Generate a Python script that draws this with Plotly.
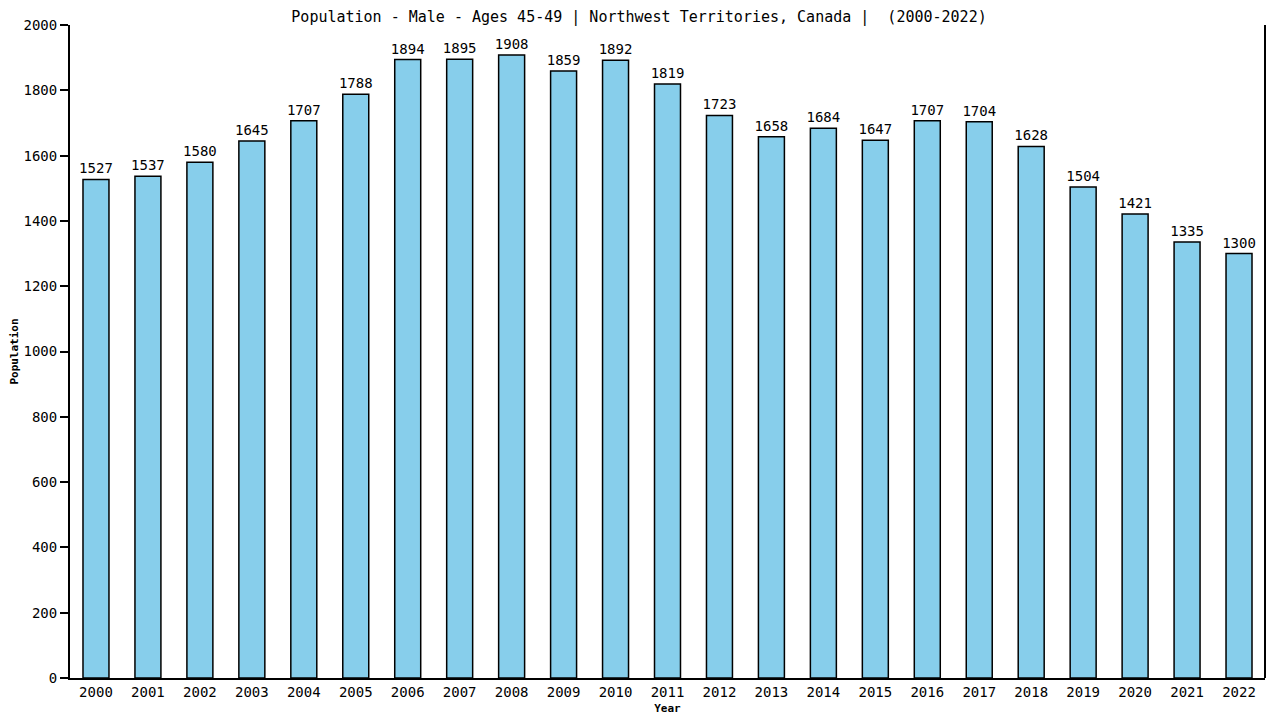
import plotly.graph_objects as go

years = [str(y) for y in range(2000, 2023)]
population = [1527, 1537, 1580, 1645, 1707, 1788, 1894, 1895, 1908, 1859, 1892, 1819,
              1723, 1658, 1684, 1647, 1707, 1704, 1628, 1504, 1421, 1335, 1300]
y_ticks = list(range(0, 2001, 200))

font = "DejaVu Sans Mono"

fig = go.Figure()
fig.add_trace(go.Bar(
    x=years, y=population,
    width=0.5,
    marker=dict(color="#87CEEB", line=dict(color="black", width=1.5)),
    text=[str(v) for v in population],
    textposition="outside",
    constraintext="none",
    textfont=dict(family=font, size=14, color="black"),
    cliponaxis=False,
))

# the page has an 8px body margin, so the margins are set 8px tighter on top/left
fig.update_layout(
    width=1280, height=720,
    margin=dict(l=62, r=23, t=17, b=50, autoexpand=False),
    plot_bgcolor="white", paper_bgcolor="white",
    showlegend=False,
    bargap=0.5,
    title=dict(text="Population - Male - Ages 45-49 | Northwest Territories, Canada |  (2000-2022)",
               x=0.493, xanchor="center", yref="container", y=0.988, yanchor="middle",
               font=dict(family=font, size=15, color="black")),
    font=dict(family=font, color="black"),
)

fig.update_xaxes(
    title=dict(text="<b>Year</b>", font=dict(family=font, size=11), standoff=6),
    tickfont=dict(family=font, size=14),
    showline=True, linecolor="black", linewidth=2, mirror=False,
    showgrid=False, ticks="", range=[-0.5, 22.5], automargin=False,
)
fig.update_yaxes(
    title=dict(text="<b>Population</b>", font=dict(family=font, size=11), standoff=6),
    tickfont=dict(family=font, size=14),
    tickvals=y_ticks, range=[0, 2000],
    showline=True, linecolor="black", linewidth=2,
    ticks="outside", ticklen=8, tickwidth=1.5, tickcolor="black",
    showgrid=False, zeroline=False, automargin=False,
)
# right-hand border line
fig.add_shape(type="line", xref="paper", yref="paper", x0=1, x1=1, y0=0, y1=1,
              line=dict(color="black", width=2))

fig.write_html("out.html")
